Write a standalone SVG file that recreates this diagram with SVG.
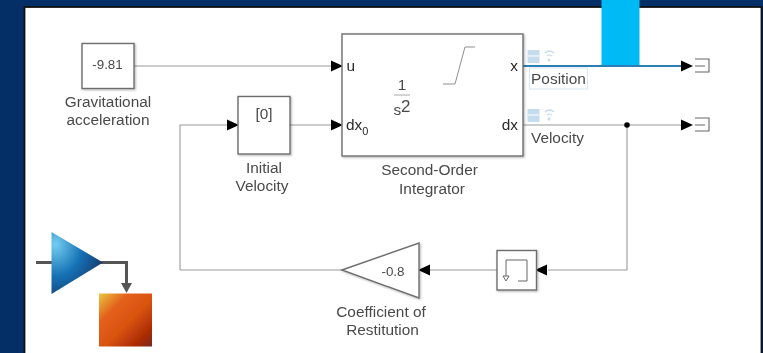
<svg xmlns="http://www.w3.org/2000/svg" width="763" height="353" viewBox="0 0 763 353">
<style>
.blk{fill:#fff;stroke:#6e6e6e;stroke-width:1.4}
.ln{fill:none;stroke:#9a9a9a;stroke-width:1.1}
.t{font-family:"Liberation Sans",Arial,sans-serif;font-size:15.4px;fill:#4a4a4a;text-anchor:middle}
.s{font-size:13.4px}
.p{fill:#2b2b2b;text-anchor:start}
.e{fill:#2b2b2b;text-anchor:end}
.ah{fill:#000}
</style>
<defs>
<radialGradient id="gb" cx="0.08" cy="0.2" r="0.95"><stop offset="0" stop-color="#74cdf0"/><stop offset="0.55" stop-color="#1470b4"/><stop offset="1" stop-color="#143c70"/></radialGradient>
<linearGradient id="go" x1="0" y1="0" x2="1" y2="1"><stop offset="0" stop-color="#e9c83f"/><stop offset="0.28" stop-color="#e4601c"/><stop offset="0.55" stop-color="#d9530f"/><stop offset="0.82" stop-color="#ad2c04"/><stop offset="1" stop-color="#78281f"/></linearGradient>
<filter id="soft" x="-5%" y="-5%" width="110%" height="110%"><feGaussianBlur stdDeviation="0.55"/></filter>
<filter id="sh" x="-10%" y="-10%" width="125%" height="125%"><feDropShadow dx="1" dy="1" stdDeviation="0.8" flood-color="#000" flood-opacity="0.3"/></filter>
<path id="arr" d="M0 -5.500L12 0L0 5.500Z" class="ah"/>
</defs>
<rect width="763" height="353" fill="#042e66"/>
<rect x="24.500" y="7" width="737" height="350" fill="#fff" stroke="#111" stroke-width="1.800"/>
<g filter="url(#soft)">
<rect id="highlight" x="601.500" y="0" width="38" height="65" fill="#00baf5"/>
<g id="connectors">
<path class="ln" d="M134 66H332"/>
<path class="ln" d="M180 270V125H228"/>
<path class="ln" d="M290 125H332"/>
<path class="ln" d="M228 125H238"/>
<path d="M523 66H682" fill="none" stroke="#2f7eb6" stroke-width="2.200"/>
<path class="ln" d="M523 125H682"/>
<path class="ln" d="M627 125V270H548"/>
<path class="ln" d="M497 270H430"/>
<path class="ln" d="M342 270H180"/>
<circle cx="627" cy="125" r="2.800" class="ah"/>
<use href="#arr" x="331" y="66"/>
<use href="#arr" x="227" y="125"/>
<use href="#arr" x="331" y="125"/>
<use href="#arr" x="681" y="66"/>
<use href="#arr" x="681" y="125"/>
<use href="#arr" transform="translate(547 270) rotate(180)"/>
<use href="#arr" transform="translate(430 270) rotate(180)"/>
</g>
<g id="gravity">
<rect class="blk" x="82" y="43.500" width="52" height="45" filter="url(#sh)"/>
<text class="t s" x="107.500" y="69">-9.81</text>
<text class="t" x="108" y="107">Gravitational</text>
<text class="t" x="108" y="125">acceleration</text>
</g>
<g id="initial-velocity">
<rect class="blk" x="238" y="96.500" width="52" height="57.500" filter="url(#sh)"/>
<text class="t" x="264" y="119">[0]</text>
<text class="t" x="264" y="173">Initial</text>
<text class="t" x="262" y="191">Velocity</text>
</g>
<g id="integrator">
<rect class="blk" x="342" y="34" width="181" height="122" filter="url(#sh)"/>
<text class="t p" x="346.500" y="71">u</text>
<text class="t p" x="346" y="130">dx<tspan font-size="11" dy="5">0</tspan></text>
<text class="t e" x="518" y="71">x</text>
<text class="t e" x="518" y="130">dx</text>
<text class="t" x="402" y="90">1</text>
<path d="M394 95H410" stroke="#a8a8a8" stroke-width="1" fill="none"/>
<text class="t" x="402" y="115">s<tspan font-size="17" dy="-3">2</tspan></text>
<path d="M443 84H455L465 47H475" fill="none" stroke="#8f8f8f" stroke-width="1"/>
<text class="t" x="429.500" y="175">Second-Order</text>
<text class="t" x="432" y="194">Integrator</text>
</g>
<g id="position-signal">
<rect x="527.500" y="50" width="12" height="13" fill="#c5dcef"/>
<path d="M528 56H539" stroke="#fff" stroke-width="1"/>
<path d="M545 53Q549 49 554 53M547 56Q549 54 552 56" fill="none" stroke="#c5dcef" stroke-width="1.200"/>
<circle cx="549" cy="60" r="1.500" fill="#c5dcef"/>
<rect x="529.500" y="68" width="58" height="21" fill="#fff" stroke="#d5e6f4" stroke-width="1"/>
<text class="t" x="558.500" y="83.500">Position</text>
</g>
<g id="velocity-signal">
<rect x="527.500" y="109" width="12" height="13" fill="#c5dcef"/>
<path d="M528 115H539" stroke="#fff" stroke-width="1"/>
<path d="M545 112Q549 108 554 112M547 115Q549 113 552 115" fill="none" stroke="#c5dcef" stroke-width="1.200"/>
<circle cx="549" cy="119" r="1.500" fill="#c5dcef"/>
<text class="t" x="557.500" y="143">Velocity</text>
</g>
<g id="terminator-position">
<path d="M695 59H709V72H695M695 66H705" fill="none" stroke="#666" stroke-width="1.100"/>
</g>
<g id="terminator-velocity">
<path d="M695 118H709V131H695M695 125H705" fill="none" stroke="#666" stroke-width="1.100"/>
</g>
<g id="memory">
<rect class="blk" x="497" y="250.500" width="39.500" height="39.500" filter="url(#sh)"/>
<path d="M506 276V260H527V281H518" fill="none" stroke="#666" stroke-width="1"/>
<path d="M503 276H509L506 281Z" fill="#fff" stroke="#666" stroke-width="1"/>
</g>
<g id="restitution">
<path class="blk" d="M342 270L419 243V298Z" filter="url(#sh)"/>
<text class="t s" x="393" y="276">-0.8</text>
<text class="t" x="381" y="317">Coefficient of</text>
<text class="t" x="382.500" y="335">Restitution</text>
</g>
<g id="logo">
<path d="M36 262.500H126.500V285" fill="none" stroke="#555" stroke-width="3"/>
<path d="M51.500 232L103 262.500L51.500 294Z" fill="url(#gb)"/>
<path d="M121 283H132L126.500 293Z" fill="#555"/>
<rect x="99" y="293.500" width="53" height="53" fill="url(#go)"/>
</g>
</g>
</svg>
